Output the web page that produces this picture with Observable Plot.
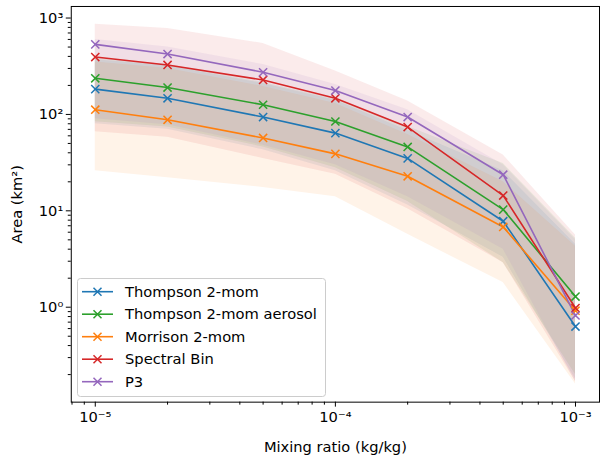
<!DOCTYPE html>
<html><head><meta charset="utf-8">
<script src="https://cdn.jsdelivr.net/npm/d3@7"></script>
<script src="https://cdn.jsdelivr.net/npm/@observablehq/plot@0.6"></script>
<style>
html,body{margin:0;padding:0;overflow:hidden;background:#fff;}
#wrap{position:relative;width:600px;height:458px;overflow:hidden;font-family:"DejaVu Sans",sans-serif;}
#legend{position:absolute;left:0;top:0;pointer-events:none;}
</style></head><body><div id="wrap"></div>
<script>
// ---- data ----
const mixingRatio = [1e-5, 2e-5, 5e-5, 1e-4, 2e-4, 5e-4, 1e-3];
const seriesNames = ["Thompson 2-mom", "Thompson 2-mom aerosol", "Morrison 2-mom", "Spectral Bin", "P3"];
const seriesColors = ["#1f77b4", "#2ca02c", "#ff7f0e", "#d62728", "#9467bd"];

const thompsonMean = [183, 147, 94, 64, 35, 7.8, 0.63];
const thompsonLow  = [80, 70, 43, 26, 11.5, 3.3, 0.18];
const thompsonHigh = [370, 320, 210, 140, 68, 26, 4.5];

const aerosolMean = [237, 190, 126, 84.5, 46, 10.3, 1.29];
const aerosolLow  = [84, 74, 46, 28, 12.5, 2.9, 0.2];
const aerosolHigh = [380, 330, 215, 145, 75, 31, 5.2];

const morrisonMean = [112, 88, 57, 39, 22.8, 6.8, 0.92];
const morrisonLow  = [26, 22, 17.5, 14, 5.7, 1.8, 0.16];
const morrisonHigh = [350, 300, 195, 130, 62, 20, 4.3];

const binMean = [394, 326, 228, 147, 74, 14.4, 0.98];
const binLow  = [66, 58, 35, 24, 10.5, 2.9, 0.17];
const binHigh = [860, 780, 545, 283, 138, 38, 5.6];

const p3Mean = [533, 423, 274, 177, 94, 23.7, 0.82];
const p3Low  = [90, 78, 48, 30, 14, 4, 0.17];
const p3High = [600, 500, 330, 205, 112, 30, 5.0];

const xMajorTicks = [1e-5, 1e-4, 1e-3];
const xTickLabels = ["10⁻⁵", "10⁻⁴", "10⁻³"];
const yMajorTicks = [1, 10, 100, 1000];
const yTickLabels = ["10⁰", "10¹", "10²", "10³"];
const xAxisLabel = "Mixing ratio (kg/kg)";
const yAxisLabel = "Area (km²)";

// ---- build table ----
const seriesData = [
  [thompsonMean, thompsonLow, thompsonHigh],
  [aerosolMean, aerosolLow, aerosolHigh],
  [morrisonMean, morrisonLow, morrisonHigh],
  [binMean, binLow, binHigh],
  [p3Mean, p3Low, p3High]
];
const table = [];
seriesNames.forEach((name, i) => {
  const [m, lo, hi] = seriesData[i];
  mixingRatio.forEach((x, j) => table.push({name, x, mean: m[j], lo: lo[j], hi: hi[j]}));
});

const minor = (decades, lo, hi) => {
  const out = [];
  for (const k of decades) for (let d = 2; d <= 9; d++) { const v = d * Math.pow(10, k); if (v >= lo && v <= hi) out.push(v); }
  return out;
};
const xDomain = [Math.pow(10, -5.1), Math.pow(10, -2.9)];
const yDomain = [Math.pow(10, -0.985), Math.pow(10, 3.12)];
const xMinor = minor([-6, -5, -4, -3], xDomain[0], xDomain[1]);
const yMinor = minor([-1, 0, 1, 2, 3], yDomain[0], yDomain[1]);

const FS = 14.7;
const plot = Plot.plot({
  width: 602,
  height: 458,
  marginLeft: 71,
  marginRight: 1,
  marginTop: 6,
  marginBottom: 55,
  style: {fontFamily: "DejaVu Sans, sans-serif", fontSize: FS + "px", color: "black", background: "white"},
  x: {type: "log", domain: xDomain},
  y: {type: "log", domain: yDomain},
  color: {domain: seriesNames, range: seriesColors},
  marks: [
    Plot.areaY(table, {x: "x", y1: "lo", y2: "hi", z: "name", fill: "name", fillOpacity: 0.095}),
    Plot.line(table, {x: "x", y: "mean", z: "name", stroke: "name", strokeWidth: 1.6}),
    Plot.dot(table, {x: "x", y: "mean", stroke: "name", symbol: "times", r: 3.8, strokeWidth: 1.5}),
    Plot.frame({stroke: "black", strokeWidth: 1}),
    Plot.axisX({ticks: xMinor, tickSize: 3, tickFormat: () => "", label: null}),
    Plot.axisX({ticks: xMajorTicks, tickSize: 5, tickPadding: 4, tickFormat: (d) => xTickLabels[xMajorTicks.indexOf(d)], fontSize: FS, label: null}),
    Plot.axisY({ticks: yMinor, tickSize: 3, tickFormat: () => "", label: null}),
    Plot.axisY({ticks: yMajorTicks, tickSize: 5, tickPadding: 3, tickFormat: (d) => yTickLabels[yMajorTicks.indexOf(d)], fontSize: FS, label: null}),
    Plot.text([xAxisLabel], {frameAnchor: "bottom", lineAnchor: "middle", dy: 45, fontSize: FS, fill: "black"}),
    Plot.text([yAxisLabel], {frameAnchor: "left", lineAnchor: "middle", textAnchor: "middle", rotate: -90, dx: -54, fontSize: FS, fill: "black"})
  ]
});
const wrap = document.getElementById("wrap");
wrap.appendChild(plot);

// ---- legend ----
const leg = d3.select(wrap).append("svg").attr("id", "legend").attr("width", 600).attr("height", 458);
leg.append("rect").attr("x", 77.5).attr("y", 278.5).attr("width", 248).attr("height", 118).attr("rx", 3)
  .attr("fill", "white").attr("fill-opacity", 0.8).attr("stroke", "#cccccc").attr("stroke-width", 1);
seriesNames.forEach((name, i) => {
  const cy = 291.7 + i * 22.5;
  const g = leg.append("g");
  g.append("line").attr("x1", 82).attr("x2", 113).attr("y1", cy).attr("y2", cy)
    .attr("stroke", seriesColors[i]).attr("stroke-width", 1.6);
  const s = 4;
  g.append("path").attr("d", `M${97.5 - s},${cy - s}L${97.5 + s},${cy + s}M${97.5 - s},${cy + s}L${97.5 + s},${cy - s}`)
    .attr("stroke", seriesColors[i]).attr("stroke-width", 1.5).attr("fill", "none");
  g.append("text").attr("x", 125).attr("y", cy).attr("dy", "0.36em").attr("font-size", FS)
    .attr("font-family", "DejaVu Sans, sans-serif").attr("fill", "black").text(name);
});
</script>
</body></html>
